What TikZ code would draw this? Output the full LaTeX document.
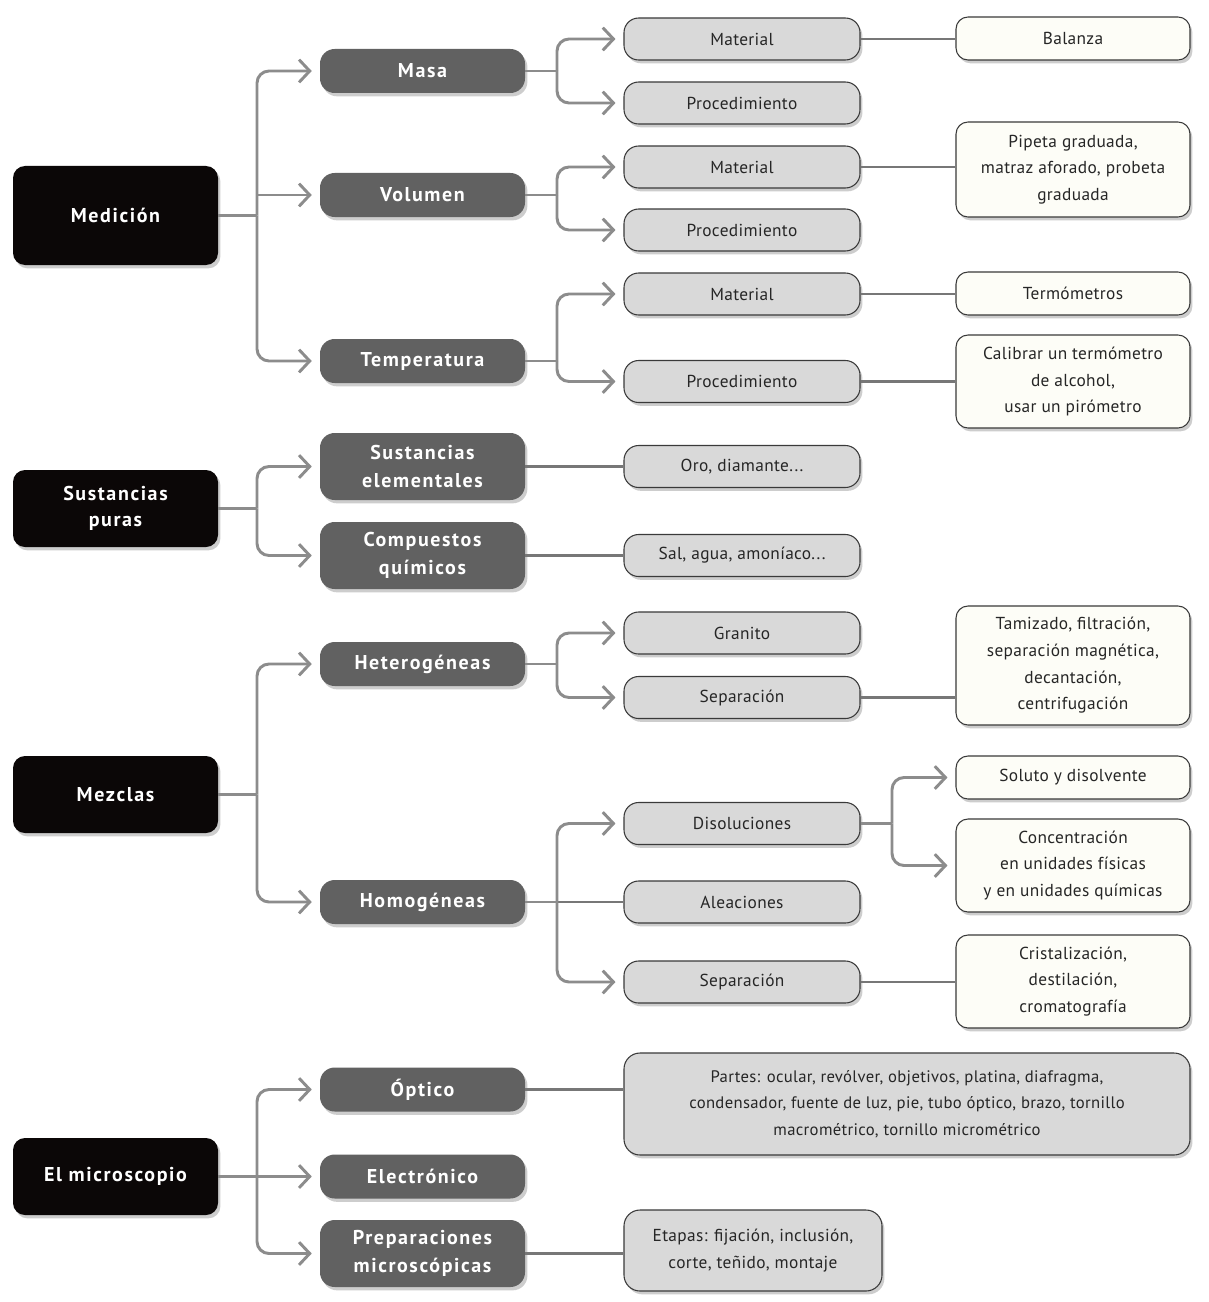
\documentclass[tikz,border=0pt]{standalone}
\usepackage{fontspec}
\setmainfont{PT Sans}
\newfontfamily\headfont[LetterSpace=8]{PT Sans}
\newfontfamily\bodyfont[LetterSpace=2]{PT Sans}
\usetikzlibrary{arrows.meta,shadows}
\definecolor{lvlzero}{HTML}{0B0707}
\definecolor{lvlone}{HTML}{616161}
\definecolor{lvltwo}{HTML}{D9D9D9}
\definecolor{lvlthree}{HTML}{FDFDF7}
\definecolor{edgeg}{HTML}{8C8C8C}
\definecolor{bord}{HTML}{3A3A3A}
\begin{document}
\begin{tikzpicture}[x=0.75pt,y=-0.75pt,
 shd/.style={drop shadow={shadow xshift=1.8pt,shadow yshift=-2.5pt,opacity=0.28,fill=black!70}},
 zero/.style={shd,fill=lvlzero,text=white,rounded corners=9pt,minimum width=153.75pt,minimum height=57.75pt,inner sep=0pt,align=center,font=\headfont\fontsize{15}{20}\selectfont\bfseries},
 one/.style={shd,fill=lvlone,text=white,rounded corners=11pt,minimum width=153.75pt,minimum height=33pt,inner sep=0pt,align=center,font=\headfont\fontsize{15}{21}\selectfont\bfseries},
 two/.style={shd,fill=lvltwo,draw=bord,line width=0.8pt,text=black!85,rounded corners=11pt,minimum width=177pt,minimum height=31.5pt,inner sep=0pt,align=center,font=\bodyfont\fontsize{13}{20}\selectfont},
 three/.style={shd,fill=lvlthree,draw=bord,line width=0.8pt,text=black!85,rounded corners=9pt,minimum width=175.5pt,minimum height=32.25pt,inner sep=0pt,align=center,font=\bodyfont\fontsize{13}{20}\selectfont},
 arr/.style={draw=edgeg,line width=2.2pt,rounded corners=9pt,-{Straight Barb[length=8pt,width=17pt,line width=2.2pt]},shorten >=6pt},
 stem/.style={draw=edgeg,line width=2.2pt},
 link/.style={draw=edgeg!85!black,line width=1.6pt},
]
\useasboundingbox (0,0) rectangle (1208,1302);
\fill[white] (0,0) rectangle (1208,1302);

% level 0
\node[zero,minimum height=74.25pt] (med) at (115.5,215.5) {Medición};
\node[zero] (sus) at (115.5,508.5) {Sustancias\\puras};
\node[zero] (mez) at (115.5,794.5) {Mezclas};
\node[zero] (mic) at (115.5,1176.5) {El microscopio};

% level 1
\node[one] (masa) at (422.5,71) {Masa};
\node[one] (vol) at (422.5,195) {Volumen};
\node[one] (temp) at (422.5,361) {Temperatura};
\node[one,minimum height=50.25pt] (selem) at (422.5,466.5) {Sustancias\\elementales};
\node[one,minimum height=50.25pt] (comp) at (422.5,555.5) {Compuestos\\químicos};
\node[one] (het) at (422.5,664) {Heterogéneas};
\node[one] (hom) at (422.5,902) {Homogéneas};
\node[one] (opt) at (422.5,1089.5) {Óptico};
\node[one] (elec) at (422.5,1176.5) {Electrónico};
\node[one,minimum height=50.25pt] (prep) at (422.5,1253.5) {Preparaciones\\microscópicas};

% level 2
\node[two] (mat1) at (742,39) {Material};
\node[two] (proc1) at (742,103) {Procedimiento};
\node[two] (mat2) at (742,167) {Material};
\node[two] (proc2) at (742,230) {Procedimiento};
\node[two] (mat3) at (742,294) {Material};
\node[two] (proc3) at (742,381.5) {Procedimiento};
\node[two] (oro) at (742,466.5) {Oro, diamante...};
\node[two] (sal) at (742,555.5) {Sal, agua, amoníaco...};
\node[two] (gra) at (742,633) {Granito};
\node[two] (sep1) at (742,697.5) {Separación};
\node[two] (dis) at (742,823.5) {Disoluciones};
\node[two] (ale) at (742,902) {Aleaciones};
\node[two] (sep2) at (742,982) {Separación};
\node[two,rounded corners=12pt,minimum width=424.5pt,minimum height=76.5pt,font=\bodyfont\fontsize{12.5}{20}\selectfont] (partes) at (907,1104) {Partes: ocular, revólver, objetivos, platina, diafragma,\\condensador, fuente de luz, pie, tubo óptico, brazo, tornillo\\macrométrico, tornillo micrométrico};
\node[two,rounded corners=12pt,minimum width=193.5pt,minimum height=60.75pt] (etapas) at (753,1250.5) {Etapas: fijación, inclusión,\\corte, teñido, montaje};

% level 3
\node[three] (bal) at (1073,38.5) {Balanza};
\node[three,minimum height=71.25pt] (pip) at (1073,169.5) {Pipeta graduada,\\matraz aforado, probeta\\graduada};
\node[three] (ter) at (1073,293.5) {Termómetros};
\node[three,minimum height=69.75pt] (cal) at (1073,381.5) {Calibrar un termómetro\\de alcohol,\\usar un pirómetro};
\node[three,minimum height=89.25pt] (tam) at (1073,665.5) {Tamizado, filtración,\\separación magnética,\\decantación,\\centrifugación};
\node[three] (sol) at (1073,777.5) {Soluto y disolvente};
\node[three,minimum height=69.75pt] (con) at (1073,865.5) {Concentración\\en unidades físicas\\y en unidades químicas};
\node[three,minimum height=69.75pt] (cri) at (1073,981.5) {Cristalización,\\destilación,\\cromatografía};

% junctions
\coordinate (jm) at (257,215.5);
\coordinate (jv) at (257,195);
\coordinate (jma) at (557,71);
\coordinate (jvo) at (557,195);
\coordinate (jte) at (557,361);
\coordinate (jsu) at (257,508.5);
\coordinate (jme) at (257,794.5);
\coordinate (jhe) at (557,664);
\coordinate (jho) at (557,902);
\coordinate (jmi) at (257,1176.5);
\coordinate (jdi) at (892,823.5);

% Medición
\draw[stem] (med.east) -- (jm);
\draw[arr] (jm) |- (masa.west);
\draw[arr] (jm) |- (temp.west);
\draw[arr] (jv) -- (vol.west);
\draw[stem] (masa.east) -- (jma);
\draw[arr] (jma) |- (mat1.west);
\draw[arr] (jma) |- (proc1.west);
\draw[stem] (vol.east) -- (jvo);
\draw[arr] (jvo) |- (mat2.west);
\draw[arr] (jvo) |- (proc2.west);
\draw[stem] (temp.east) -- (jte);
\draw[arr] (jte) |- (mat3.west);
\draw[arr] (jte) |- (proc3.west);
\draw[link] (mat1.east) -- (bal.west |- mat1.east);
\draw[link] (mat2.east) -- (pip.west |- mat2.east);
\draw[link] (mat3.east) -- (ter.west |- mat3.east);
\draw[link] (proc3.east) -- (cal.west |- proc3.east);

% Sustancias puras
\draw[stem] (sus.east) -- (jsu);
\draw[arr] (jsu) |- (selem.west);
\draw[arr] (jsu) |- (comp.west);
\draw[link] (selem.east) -- (oro.west);
\draw[link] (comp.east) -- (sal.west);

% Mezclas
\draw[stem] (mez.east) -- (jme);
\draw[arr] (jme) |- (het.west);
\draw[arr] (jme) |- (hom.west);
\draw[stem] (het.east) -- (jhe);
\draw[arr] (jhe) |- (gra.west);
\draw[arr] (jhe) |- (sep1.west);
\draw[link] (sep1.east) -- (tam.west |- sep1.east);
\draw[stem] (hom.east) -- (jho);
\draw[link] (jho) -- (ale.west);
\draw[arr] (jho) |- (dis.west);
\draw[arr] (jho) |- (sep2.west);
\draw[stem] (dis.east) -- (jdi);
\draw[arr] (jdi) |- (sol.west);
\draw[arr] (jdi) |- (con.west);
\draw[link] (sep2.east) -- (cri.west |- sep2.east);

% Microscopio
\draw[stem] (mic.east) -- (jmi);
\draw[arr] (jmi) |- (opt.west);
\draw[arr] (jmi) |- (prep.west);
\draw[arr] (jmi) -- (elec.west);
\draw[link] (opt.east) -- (partes.west |- opt.east);
\draw[link] (prep.east) -- (etapas.west |- prep.east);
\end{tikzpicture}
\end{document}
